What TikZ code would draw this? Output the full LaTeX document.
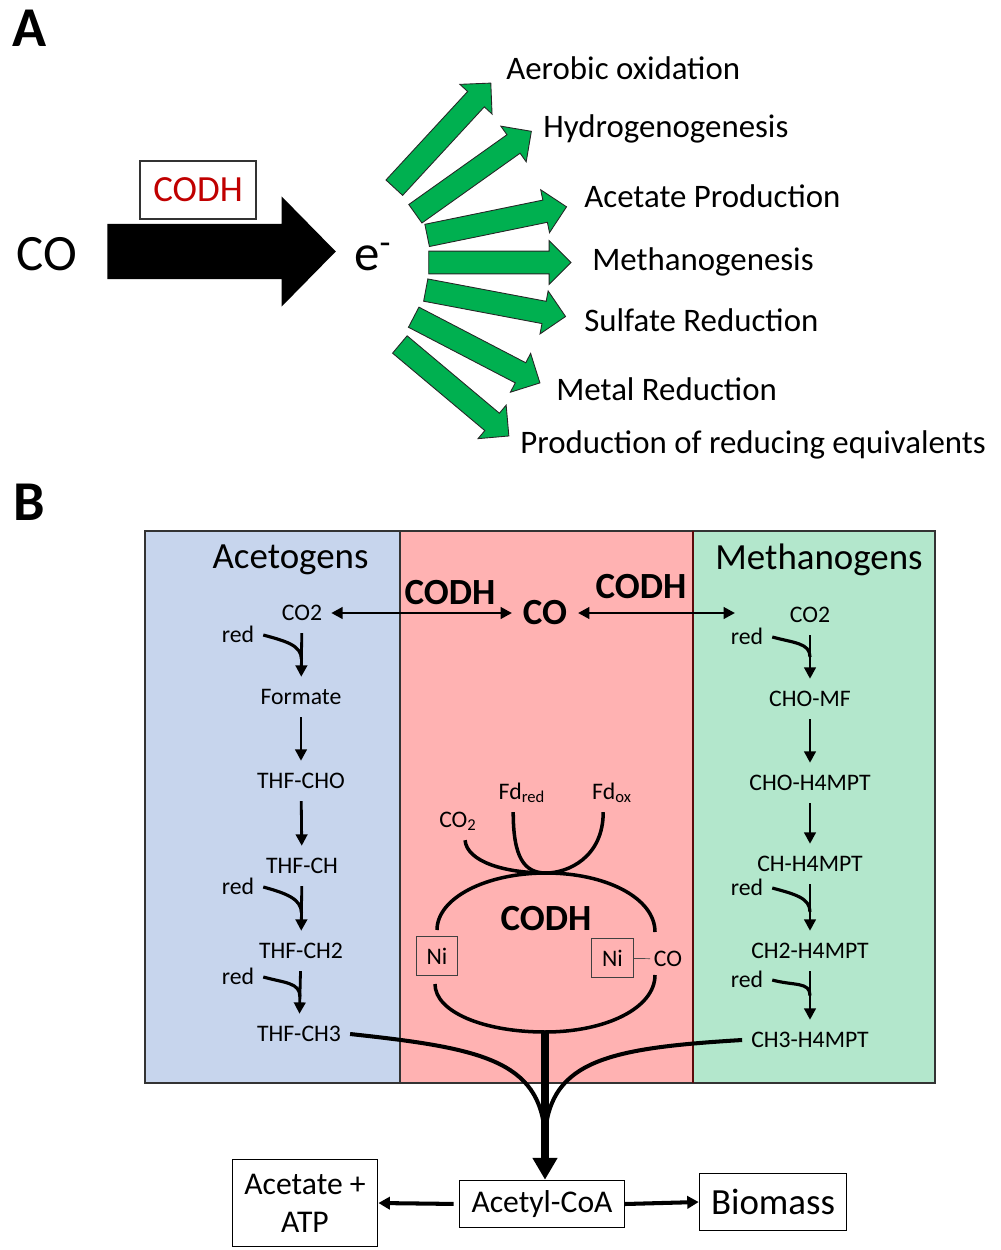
\documentclass[tikz,border=0pt]{standalone}
\usepackage{fontspec}
\setmainfont{Carlito}
\usepackage{tikz}
\usetikzlibrary{shapes.arrows, arrows.meta, calc}
\definecolor{cGreen}{RGB}{0,176,80}
\definecolor{cRed}{RGB}{192,0,0}
\definecolor{cBlue}{RGB}{199,213,237}
\definecolor{cPink}{RGB}{255,178,178}
\definecolor{cMint}{RGB}{179,231,204}
\definecolor{cDark}{RGB}{90,10,10}
\tikzset{
	bigarrow/.style ={single arrow, draw=none, fill=black, inner xsep=0pt, inner ysep=15.5pt, minimum height=130pt, single arrow head extend=15.7pt, single arrow tip angle=91},
	grarrow/.style  ={single arrow, draw=black!85, line width=0.5pt, fill=cGreen, inner xsep=0pt, inner ysep=6.2pt, minimum height=81pt, single arrow head extend=6pt, single arrow tip angle=90},
	fate/.style     ={anchor=base west, font=\fontsize{18.7}{20}\selectfont, inner sep=0pt},
	% panel B styles
	cmp/.style      ={font=\fontsize{13.5}{15}\selectfont, text height=8pt, text depth=0pt, inner ysep=7.3pt, inner xsep=5pt},
	hdr/.style      ={font=\fontsize{21}{24}\selectfont},
	enz/.style      ={font=\bfseries\fontsize{21}{24}\selectfont},
	ni/.style       ={draw=black!75, line width=0.5pt, font=\fontsize{13.5}{15}\selectfont, minimum width=23.5pt, minimum height=22pt, inner sep=0pt},
	prod/.style     ={draw=black, line width=0.6pt, align=center, inner sep=0pt},
	stp/.style      ={-{Triangle[length=6.5pt, width=6.5pt]}, line width=1.6pt},
	redc/.style     ={line width=1.8pt},
	dbl/.style      ={{Triangle[length=6.5pt, width=6.5pt]}-{Triangle[length=6.5pt, width=6.5pt]}, line width=1.7pt},
	ring/.style     ={line width=2pt},
	feed/.style     ={line width=2.3pt},
	mainarr/.style  ={-{Triangle[length=12.5pt, width=13.5pt]}, line width=4pt},
	sidearr/.style  ={-{Triangle[length=6.5pt, width=7pt]}, line width=2.3pt},
}
\begin{document}
\begin{tikzpicture}[x=0.02cm, y=-0.02cm]
\useasboundingbox (0,0) rectangle (1000,1250);
% panel A
\node[font=\bfseries\fontsize{32}{34}\selectfont] (la) at (30,28) {A};
\node[font=\fontsize{29}{32}\selectfont, anchor=base, inner sep=0pt] (co) at (47,270) {CO};
\node[bigarrow, anchor=tail] (big) at (107,251.5) {};
\node[draw=black!80, line width=0.6pt, minimum width=66pt, minimum height=33pt, text=cRed, font=\fontsize{21}{24}\selectfont] (codh) at (198,190) {CODH};
\node[font=\fontsize{29}{32}\selectfont, anchor=base west, inner sep=0pt] (el) at (354,270) {e\textsuperscript{-}};
\foreach \nm/\x/\y/\a in {g1/394/188/47.3, g2/415/214/35.4, g3/426.7/235.5/11.6, g4/428.3/262.5/0,
		g5/425.3/290/-10.7, g6/413.3/317/-27.5, g7/399.5/344.2/-40}
	\node[grarrow, anchor=tail, rotate=\a] (\nm) at (\x,\y) {};
\node[fate] (f1) at (506,80) {Aerobic oxidation};
\node[fate] (f2) at (543,138) {Hydrogenogenesis};
\node[fate] (f3) at (584,208) {Acetate Production};
\node[fate] (f4) at (592,270) {Methanogenesis};
\node[fate] (f5) at (584,331) {Sulfate Reduction};
\node[fate] (f6) at (556,400) {Metal Reduction};
\node[fate] (f7) at (520,453) {Production of reducing equivalents};
% panel B
\node[font=\bfseries\fontsize{32}{34}\selectfont] (lb) at (29,502) {B};
\fill[cBlue] (145,531) rectangle (400,1083);
\fill[cPink] (400,531) rectangle (693,1083);
\fill[cMint] (693,531) rectangle (935,1083);
\draw[black!80, line width=0.6pt] (145,531) rectangle (935,1083);
\draw[black!80, line width=0.6pt] (400,531) -- (400,1083);
\draw[cDark, line width=0.8pt] (693,531) -- (693,1083);
\node[hdr] (acg) at (290.5,560) {Acetogens};
\node[hdr] (mtg) at (819,560) {Methanogens};
% acetogens
\node[cmp] (a1) at (302,613) {CO2};
\node[cmp] (a2) at (301,697) {Formate};
\node[cmp] (a3) at (301,781) {THF-CHO};
\node[cmp] (a4) at (302,866) {THF-CH};
\node[cmp] (a5) at (301,951) {THF-CH2};
\node[cmp] (a6) at (299,1034) {THF-CH3};
\draw[stp] (a1) -- (a2);
\draw[stp] (a2) -- (a3);
\draw[stp] (a3) -- (a4);
\draw[stp] (a4) -- (a5);
\draw[stp] (a5) -- (a6);
\node[cmp] (ra1) at (238,635) {red};
\node[cmp] (ra2) at (238,887) {red};
\node[cmp] (ra3) at (238,977) {red};
\draw[redc] (ra1.east) .. controls +(22,6) and +(0,-14) .. ($(a1)!0.55!(a2)$);
\draw[redc] (ra2.east) .. controls +(22,6) and +(0,-14) .. ($(a4)!0.55!(a5)$);
\draw[redc] (ra3.east) .. controls +(22,6) and +(0,-14) .. ($(a5)!0.55!(a6)$);
% methanogens
\node[cmp] (m1) at (810,615) {CO2};
\node[cmp] (m2) at (810,699) {CHO-MF};
\node[cmp] (m3) at (810,783) {CHO-H4MPT};
\node[cmp] (m4) at (810,864) {CH-H4MPT};
\node[cmp] (m5) at (810,951) {CH2-H4MPT};
\node[cmp] (m6) at (810,1040) {CH3-H4MPT};
\draw[stp] (m1) -- (m2);
\draw[stp] (m2) -- (m3);
\draw[stp] (m3) -- (m4);
\draw[stp] (m4) -- (m5);
\draw[stp] (m5) -- (m6);
\node[cmp] (rm1) at (747,637) {red};
\node[cmp] (rm2) at (747,888) {red};
\node[cmp] (rm3) at (747,980) {red};
\draw[redc] (rm1.east) .. controls +(22,6) and +(0,-14) .. ($(m1)!0.5!(m2)$);
\draw[redc] (rm2.east) .. controls +(22,6) and +(0,-14) .. ($(m4)!0.55!(m5)$);
\draw[redc] (rm3.east) .. controls +(22,6) and +(0,-14) .. ($(m5)!0.5!(m6)$);
% CODH in the middle
\node[enz] (cl) at (450,593) {CODH};
\node[enz] (cr) at (641,587) {CODH};
\node[enz, inner xsep=6pt] (cco) at (545,613) {CO};
\coordinate (mend) at (735,613);
\draw[dbl] (a1) -- (cco);
\draw[dbl] (cco) -- (mend);
\node[cmp] (cdo) at (458,820) {CO\textsubscript{2}};
\node[cmp] (fdr) at (522,792) {Fd\textsubscript{red}};
\node[cmp] (fdx) at (612,792) {Fd\textsubscript{ox}};
\coordinate (top) at (546,873);
\coordinate (cbot) at (545,1032);
\draw[ring] ([xshift=4pt]cdo.south) .. controls +(2,22) and +(-40,0) .. (top);
\draw[ring] ([xshift=-5pt]fdr.south) .. controls +(0,45) and +(-22,0) .. (top) .. controls +(22,0) and +(0,45) .. ([xshift=-5pt]fdx.south);
\draw[ring] (437,930) .. controls (437,898) and (486,873) .. (top) .. controls (606,873) and (655,898) .. (655,932);
\draw[ring] (435,984) .. controls (435,1012) and (484,1032) .. (cbot) .. controls (606,1032) and (655,1008) .. (655,975);
\node[ni] (nil) at (437,956) {Ni};
\node[ni] (nir) at (612.5,958) {Ni};
\node[cmp, inner xsep=2pt] (nco) at (668,959) {CO};
\draw[black!70, line width=0.4pt] (nir) -- (nco);
\node[enz] (cbig) at (546,919) {CODH};
% products
\node[prod, minimum width=94pt, minimum height=27pt, font=\fontsize{18}{20}\selectfont] (acoa) at (542,1204) {Acetyl-CoA};
\node[prod, minimum width=83pt, minimum height=50pt, font=\fontsize{18}{21.5}\selectfont] (acat) at (305,1203) {Acetate +\\ATP};
\node[prod, minimum width=84pt, minimum height=32pt, font=\fontsize{21}{24}\selectfont] (bio) at (773,1202) {Biomass};
\coordinate (mrg) at (545,1135);
\draw[feed] (a6.east) .. controls (480,1048) and (540,1060) .. (mrg);
\draw[feed] (m6.west) .. controls (610,1048) and (550,1060) .. (mrg);
\draw[mainarr] (cbot) -- (cbot |- acoa.north);
\draw[sidearr, shorten <=3pt] (acoa.west) -- (acat.east);
\draw[sidearr] (acoa.east) -- (bio.west);
\end{tikzpicture}
\end{document}
